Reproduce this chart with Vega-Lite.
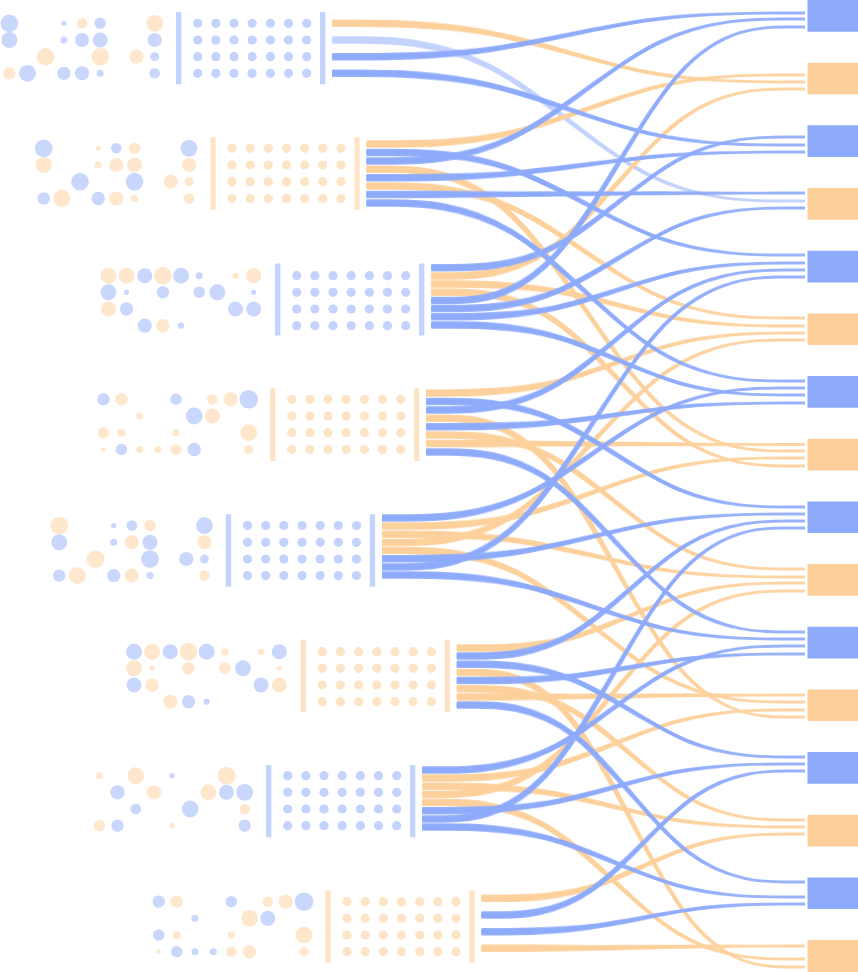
{
  "$schema": "https://vega.github.io/schema/vega-lite/v6.json",
  "width": 858,
  "height": 972,
  "padding": 0,
  "autosize": {"type": "none"},
  "background": "white",
  "config": {"view": {"stroke": null}},
  "datasets": {
    "links": [
      {"id": 1, "c": "o", "x": [332.2, 489.8, 647.4, 805], "y": [23.3, 23.3, 82, 82], "o": [0, 1, 2, 3]},
      {"id": 2, "c": "lb", "x": [332.2, 489.8, 647.4, 805], "y": [40, 40, 201, 201], "o": [0, 1, 2, 3]},
      {"id": 3, "c": "b", "x": [332.2, 489.8, 647.4, 805], "y": [56.7, 56.7, 13, 13], "o": [0, 1, 2, 3]},
      {"id": 4, "c": "b", "x": [332.2, 489.8, 647.4, 805], "y": [73.3, 73.3, 145, 145], "o": [0, 1, 2, 3]},
      {"id": 5, "c": "o", "x": [366.5, 512.7, 658.8, 805], "y": [144, 144, 75, 75], "o": [0, 1, 2, 3]},
      {"id": 6, "c": "b", "x": [366.5, 512.7, 658.8, 805], "y": [152.4, 152.4, 255, 255], "o": [0, 1, 2, 3]},
      {"id": 7, "c": "b", "x": [366.5, 512.7, 658.8, 805], "y": [160.9, 160.9, 19, 19], "o": [0, 1, 2, 3]},
      {"id": 8, "c": "o", "x": [366.5, 512.7, 658.8, 805], "y": [169.3, 169.3, 451, 451], "o": [0, 1, 2, 3]},
      {"id": 9, "c": "b", "x": [366.5, 512.7, 658.8, 805], "y": [177.7, 177.7, 152, 152], "o": [0, 1, 2, 3]},
      {"id": 10, "c": "o", "x": [366.5, 512.7, 658.8, 805], "y": [186.1, 186.1, 318, 318], "o": [0, 1, 2, 3]},
      {"id": 11, "c": "b", "x": [366.5, 512.7, 658.8, 805], "y": [194.6, 194.6, 193, 193], "o": [0, 1, 2, 3]},
      {"id": 12, "c": "b", "x": [366.5, 512.7, 658.8, 805], "y": [203, 203, 381, 381], "o": [0, 1, 2, 3]},
      {"id": 13, "c": "b", "x": [431.2, 555.8, 680.4, 805], "y": [267.7, 267.7, 137, 137], "o": [0, 1, 2, 3]},
      {"id": 14, "c": "o", "x": [431.2, 555.8, 680.4, 805], "y": [275.9, 275.9, 89, 89], "o": [0, 1, 2, 3]},
      {"id": 15, "c": "o", "x": [431.2, 555.8, 680.4, 805], "y": [284.1, 284.1, 326, 326], "o": [0, 1, 2, 3]},
      {"id": 16, "c": "o", "x": [431.2, 555.8, 680.4, 805], "y": [292.3, 292.3, 466, 466], "o": [0, 1, 2, 3]},
      {"id": 17, "c": "b", "x": [431.2, 555.8, 680.4, 805], "y": [300.4, 300.4, 27, 27], "o": [0, 1, 2, 3]},
      {"id": 18, "c": "b", "x": [431.2, 555.8, 680.4, 805], "y": [308.6, 308.6, 208, 208], "o": [0, 1, 2, 3]},
      {"id": 19, "c": "b", "x": [431.2, 555.8, 680.4, 805], "y": [316.8, 316.8, 263, 263], "o": [0, 1, 2, 3]},
      {"id": 20, "c": "b", "x": [431.2, 555.8, 680.4, 805], "y": [325, 325, 395, 395], "o": [0, 1, 2, 3]},
      {"id": 21, "c": "o", "x": [426.2, 552.5, 678.7, 805], "y": [393, 393, 333, 333], "o": [0, 1, 2, 3]},
      {"id": 22, "c": "b", "x": [426.2, 552.5, 678.7, 805], "y": [401.4, 401.4, 507, 507], "o": [0, 1, 2, 3]},
      {"id": 23, "c": "b", "x": [426.2, 552.5, 678.7, 805], "y": [409.9, 409.9, 270, 270], "o": [0, 1, 2, 3]},
      {"id": 24, "c": "o", "x": [426.2, 552.5, 678.7, 805], "y": [418.3, 418.3, 717, 717], "o": [0, 1, 2, 3]},
      {"id": 25, "c": "b", "x": [426.2, 552.5, 678.7, 805], "y": [426.7, 426.7, 403, 403], "o": [0, 1, 2, 3]},
      {"id": 26, "c": "o", "x": [426.2, 552.5, 678.7, 805], "y": [435.1, 435.1, 569, 569], "o": [0, 1, 2, 3]},
      {"id": 27, "c": "o", "x": [426.2, 552.5, 678.7, 805], "y": [443.6, 443.6, 444.5, 444.5], "o": [0, 1, 2, 3]},
      {"id": 28, "c": "b", "x": [426.2, 552.5, 678.7, 805], "y": [452, 452, 632, 632], "o": [0, 1, 2, 3]},
      {"id": 29, "c": "b", "x": [382, 523, 664, 805], "y": [518, 518, 388, 388], "o": [0, 1, 2, 3]},
      {"id": 30, "c": "o", "x": [382, 523, 664, 805], "y": [526.1, 526.1, 458, 458], "o": [0, 1, 2, 3]},
      {"id": 31, "c": "o", "x": [382, 523, 664, 805], "y": [534.3, 534.3, 577, 577], "o": [0, 1, 2, 3]},
      {"id": 32, "c": "o", "x": [382, 523, 664, 805], "y": [542.4, 542.4, 340, 340], "o": [0, 1, 2, 3]},
      {"id": 33, "c": "o", "x": [382, 523, 664, 805], "y": [550.6, 550.6, 702, 702], "o": [0, 1, 2, 3]},
      {"id": 34, "c": "b", "x": [382, 523, 664, 805], "y": [558.7, 558.7, 514, 514], "o": [0, 1, 2, 3]},
      {"id": 35, "c": "b", "x": [382, 523, 664, 805], "y": [566.9, 566.9, 277, 277], "o": [0, 1, 2, 3]},
      {"id": 36, "c": "b", "x": [382, 523, 664, 805], "y": [575, 575, 639, 639], "o": [0, 1, 2, 3]},
      {"id": 37, "c": "o", "x": [456.8, 572.9, 688.9, 805], "y": [648, 648, 583, 583], "o": [0, 1, 2, 3]},
      {"id": 38, "c": "b", "x": [456.8, 572.9, 688.9, 805], "y": [656.1, 656.1, 521, 521], "o": [0, 1, 2, 3]},
      {"id": 39, "c": "b", "x": [456.8, 572.9, 688.9, 805], "y": [664.3, 664.3, 757, 757], "o": [0, 1, 2, 3]},
      {"id": 40, "c": "o", "x": [456.8, 572.9, 688.9, 805], "y": [672.4, 672.4, 967, 967], "o": [0, 1, 2, 3]},
      {"id": 41, "c": "b", "x": [456.8, 572.9, 688.9, 805], "y": [680.6, 680.6, 654, 654], "o": [0, 1, 2, 3]},
      {"id": 42, "c": "o", "x": [456.8, 572.9, 688.9, 805], "y": [688.7, 688.7, 820, 820], "o": [0, 1, 2, 3]},
      {"id": 43, "c": "o", "x": [456.8, 572.9, 688.9, 805], "y": [696.9, 696.9, 695, 695], "o": [0, 1, 2, 3]},
      {"id": 44, "c": "b", "x": [456.8, 572.9, 688.9, 805], "y": [705, 705, 882, 882], "o": [0, 1, 2, 3]},
      {"id": 45, "c": "b", "x": [422.2, 549.8, 677.4, 805], "y": [770, 770, 646, 646], "o": [0, 1, 2, 3]},
      {"id": 46, "c": "o", "x": [422.2, 549.8, 677.4, 805], "y": [778.1, 778.1, 710, 710], "o": [0, 1, 2, 3]},
      {"id": 47, "c": "o", "x": [422.2, 549.8, 677.4, 805], "y": [786.3, 786.3, 827, 827], "o": [0, 1, 2, 3]},
      {"id": 48, "c": "o", "x": [422.2, 549.8, 677.4, 805], "y": [794.4, 794.4, 591, 591], "o": [0, 1, 2, 3]},
      {"id": 49, "c": "o", "x": [422.2, 549.8, 677.4, 805], "y": [802.6, 802.6, 959, 959], "o": [0, 1, 2, 3]},
      {"id": 50, "c": "b", "x": [422.2, 549.8, 677.4, 805], "y": [810.7, 810.7, 764, 764], "o": [0, 1, 2, 3]},
      {"id": 51, "c": "b", "x": [422.2, 549.8, 677.4, 805], "y": [818.9, 818.9, 528, 528], "o": [0, 1, 2, 3]},
      {"id": 52, "c": "b", "x": [422.2, 549.8, 677.4, 805], "y": [827, 827, 897, 897], "o": [0, 1, 2, 3]},
      {"id": 53, "c": "o", "x": [481.5, 589.3, 697.2, 805], "y": [898.3, 898.3, 834, 834], "o": [0, 1, 2, 3]},
      {"id": 54, "c": "b", "x": [481.5, 589.3, 697.2, 805], "y": [915, 915, 771, 771], "o": [0, 1, 2, 3]},
      {"id": 55, "c": "b", "x": [481.5, 589.3, 697.2, 805], "y": [931.7, 931.7, 904, 904], "o": [0, 1, 2, 3]},
      {"id": 56, "c": "o", "x": [481.5, 589.3, 697.2, 805], "y": [948.3, 948.3, 946, 946], "o": [0, 1, 2, 3]}
    ],
    "bars": [
      {"c": "lb", "x": 178.7, "y": 12, "y2": 84.3}, {"c": "lb", "x": 322.7, "y": 12, "y2": 84.3},
      {"c": "lo", "x": 213, "y": 137.3, "y2": 210}, {"c": "lo", "x": 357, "y": 137.3, "y2": 210},
      {"c": "lb", "x": 277.7, "y": 263.5, "y2": 335.5}, {"c": "lb", "x": 421.7, "y": 263.5, "y2": 335.5},
      {"c": "lo", "x": 272.7, "y": 388.3, "y2": 461}, {"c": "lo", "x": 416.7, "y": 388.3, "y2": 461},
      {"c": "lb", "x": 228.5, "y": 514.3, "y2": 586.7}, {"c": "lb", "x": 372.5, "y": 514.3, "y2": 586.7},
      {"c": "lo", "x": 303.3, "y": 639.5, "y2": 712}, {"c": "lo", "x": 447.3, "y": 639.5, "y2": 712},
      {"c": "lb", "x": 268.7, "y": 765, "y2": 837.3}, {"c": "lb", "x": 412.7, "y": 765, "y2": 837.3},
      {"c": "lo", "x": 328, "y": 890, "y2": 962.5}, {"c": "lo", "x": 472, "y": 890, "y2": 962.5}
    ],
    "grid": [
      {"c": "lb", "y": 23.3, "x": [197.7, 215.9, 234.0, 252.2, 270.4, 288.5, 306.7]},
      {"c": "lb", "y": 40, "x": [197.7, 215.9, 234.0, 252.2, 270.4, 288.5, 306.7]},
      {"c": "lb", "y": 56.7, "x": [197.7, 215.9, 234.0, 252.2, 270.4, 288.5, 306.7]},
      {"c": "lb", "y": 73.3, "x": [197.7, 215.9, 234.0, 252.2, 270.4, 288.5, 306.7]},
      {"c": "lo", "y": 148.3, "x": [232, 250.2, 268.3, 286.5, 304.7, 322.8, 341]},
      {"c": "lo", "y": 165, "x": [232, 250.2, 268.3, 286.5, 304.7, 322.8, 341]},
      {"c": "lo", "y": 181.7, "x": [232, 250.2, 268.3, 286.5, 304.7, 322.8, 341]},
      {"c": "lo", "y": 198.5, "x": [232, 250.2, 268.3, 286.5, 304.7, 322.8, 341]},
      {"c": "lb", "y": 275.7, "x": [296.7, 314.9, 333, 351.2, 369.4, 387.5, 405.7]},
      {"c": "lb", "y": 292.3, "x": [296.7, 314.9, 333, 351.2, 369.4, 387.5, 405.7]},
      {"c": "lb", "y": 309, "x": [296.7, 314.9, 333, 351.2, 369.4, 387.5, 405.7]},
      {"c": "lb", "y": 325.7, "x": [296.7, 314.9, 333, 351.2, 369.4, 387.5, 405.7]},
      {"c": "lo", "y": 399.3, "x": [291.7, 309.9, 328, 346.2, 364.4, 382.5, 400.7]},
      {"c": "lo", "y": 416, "x": [291.7, 309.9, 328, 346.2, 364.4, 382.5, 400.7]},
      {"c": "lo", "y": 432.7, "x": [291.7, 309.9, 328, 346.2, 364.4, 382.5, 400.7]},
      {"c": "lo", "y": 449.5, "x": [291.7, 309.9, 328, 346.2, 364.4, 382.5, 400.7]},
      {"c": "lb", "y": 525.6, "x": [247.5, 265.7, 283.8, 302, 320.2, 338.3, 356.5]},
      {"c": "lb", "y": 542.3, "x": [247.5, 265.7, 283.8, 302, 320.2, 338.3, 356.5]},
      {"c": "lb", "y": 559, "x": [247.5, 265.7, 283.8, 302, 320.2, 338.3, 356.5]},
      {"c": "lb", "y": 575.6, "x": [247.5, 265.7, 283.8, 302, 320.2, 338.3, 356.5]},
      {"c": "lo", "y": 651.7, "x": [322.3, 340.5, 358.6, 376.8, 395, 413.1, 431.3]},
      {"c": "lo", "y": 668.3, "x": [322.3, 340.5, 358.6, 376.8, 395, 413.1, 431.3]},
      {"c": "lo", "y": 685, "x": [322.3, 340.5, 358.6, 376.8, 395, 413.1, 431.3]},
      {"c": "lo", "y": 701.7, "x": [322.3, 340.5, 358.6, 376.8, 395, 413.1, 431.3]},
      {"c": "lb", "y": 775.7, "x": [287.7, 305.9, 324, 342.2, 360.4, 378.5, 396.7]},
      {"c": "lb", "y": 792.3, "x": [287.7, 305.9, 324, 342.2, 360.4, 378.5, 396.7]},
      {"c": "lb", "y": 809, "x": [287.7, 305.9, 324, 342.2, 360.4, 378.5, 396.7]},
      {"c": "lb", "y": 825.7, "x": [287.7, 305.9, 324, 342.2, 360.4, 378.5, 396.7]},
      {"c": "lo", "y": 901.7, "x": [347, 365.2, 383.3, 401.5, 419.7, 437.8, 456]},
      {"c": "lo", "y": 918.3, "x": [347, 365.2, 383.3, 401.5, 419.7, 437.8, 456]},
      {"c": "lo", "y": 935, "x": [347, 365.2, 383.3, 401.5, 419.7, 437.8, 456]},
      {"c": "lo", "y": 951.7, "x": [347, 365.2, 383.3, 401.5, 419.7, 437.8, 456]}
    ],
    "circles": [
      {"y": 23.3, "x": [9.4, 63.9, 82, 100.2, 154.7], "r": [10, 3, 6, 6.5, 9.5], "c": ["lb", "lb", "lo", "lb", "lo"]},
      {"y": 40, "x": [9.4, 63.9, 82, 100.2, 154.7], "r": [9, 4, 8, 8.5, 8], "c": ["lb", "lb", "lb", "lb", "lb"]},
      {"y": 56.7, "x": [45.7, 100.2, 136.5, 154.7], "r": [10, 10, 8, 5], "c": ["lo", "lo", "lo", "lb"]},
      {"y": 73.3, "x": [9.4, 27.5, 63.9, 82, 100.2, 154.7], "r": [7, 9.5, 7.5, 8, 4, 6], "c": ["lo", "lb", "lb", "lb", "lb", "lb"]},
      {"y": 148.3, "x": [43.7, 98.2, 116.3, 134.5, 189], "r": [10, 3, 6, 6.5, 9.5], "c": ["lb", "lo", "lb", "lo", "lb"]},
      {"y": 165, "x": [43.7, 98.2, 116.3, 134.5, 189], "r": [9, 4, 8, 8.5, 8], "c": ["lo", "lo", "lo", "lo", "lo"]},
      {"y": 181.7, "x": [80, 134.5, 170.8, 189], "r": [10, 10, 8, 5], "c": ["lb", "lb", "lo", "lo"]},
      {"y": 198.5, "x": [43.7, 61.8, 98.2, 116.3, 134.5, 189], "r": [7, 9.5, 7.5, 8, 4, 6], "c": ["lb", "lo", "lb", "lo", "lo", "lo"]},
      {"y": 275.7, "x": [108.4, 126.5, 144.7, 162.9, 181, 199.2, 235.5, 253.7], "r": [9, 9, 8.5, 10, 9, 4, 3.5, 8.5], "c": ["lo", "lo", "lb", "lo", "lb", "lb", "lo", "lo"]},
      {"y": 292.3, "x": [108.4, 126.5, 162.9, 199.2, 217.4, 253.7], "r": [9, 3, 7, 6.5, 9, 3], "c": ["lb", "lb", "lb", "lb", "lb", "lb"]},
      {"y": 309, "x": [108.4, 126.5, 235.5, 253.7], "r": [8.5, 7.5, 8.5, 8.5], "c": ["lo", "lb", "lb", "lb"]},
      {"y": 325.7, "x": [144.7, 162.9, 181], "r": [8, 7.5, 3.5], "c": ["lb", "lo", "lb"]},
      {"y": 399.3, "x": [103.4, 121.5, 176, 212.4, 230.5, 248.7], "r": [7, 7, 6.5, 6, 8, 10.5], "c": ["lb", "lo", "lb", "lo", "lo", "lb"]},
      {"y": 416, "x": [139.7, 194.2, 212.4], "r": [4, 9.5, 8.5], "c": ["lo", "lb", "lo"]},
      {"y": 432.7, "x": [103.4, 121.5, 176, 248.7], "r": [6.5, 4.5, 4, 9.5], "c": ["lo", "lo", "lo", "lo"]},
      {"y": 449.5, "x": [103.4, 121.5, 139.7, 157.9, 176, 194.2, 248.7], "r": [2.5, 6.5, 4, 4, 6, 7.5, 5], "c": ["lo", "lb", "lo", "lo", "lo", "lb", "lo"]},
      {"y": 525.6, "x": [59.2, 113.7, 131.8, 150, 204.5], "r": [10, 3, 6, 6.5, 9.5], "c": ["lo", "lb", "lb", "lo", "lb"]},
      {"y": 542.3, "x": [59.2, 113.7, 131.8, 150, 204.5], "r": [9, 4, 8, 8.5, 8], "c": ["lb", "lb", "lo", "lb", "lo"]},
      {"y": 559, "x": [95.5, 150, 186.3, 204.5], "r": [10, 10, 8, 5], "c": ["lo", "lb", "lb", "lb"]},
      {"y": 575.6, "x": [59.2, 77.3, 113.7, 131.8, 150, 204.5], "r": [7, 9.5, 7.5, 8, 4, 6], "c": ["lb", "lo", "lb", "lo", "lb", "lo"]},
      {"y": 651.7, "x": [134, 152.1, 170.3, 188.5, 206.6, 224.8, 261.1, 279.3], "r": [9, 9, 8.5, 10, 9, 4, 3.5, 8.5], "c": ["lb", "lo", "lb", "lo", "lb", "lo", "lo", "lb"]},
      {"y": 668.3, "x": [134, 152.1, 188.5, 224.8, 243, 279.3], "r": [9, 3, 7, 6.5, 9, 3], "c": ["lo", "lo", "lo", "lo", "lb", "lo"]},
      {"y": 685, "x": [134, 152.1, 261.1, 279.3], "r": [8.5, 7.5, 8.5, 8.5], "c": ["lb", "lo", "lb", "lo"]},
      {"y": 701.7, "x": [170.3, 188.5, 206.6], "r": [8, 7.5, 3.5], "c": ["lo", "lb", "lb"]},
      {"y": 775.7, "x": [99.4, 135.7, 172, 226.5], "r": [4, 9.5, 3, 10], "c": ["lo", "lo", "lb", "lo"]},
      {"y": 792.3, "x": [117.5, 153.9, 208.4, 226.5, 244.7], "r": [8, 8, 9, 8.5, 9.5], "c": ["lb", "lo", "lo", "lb", "lb"]},
      {"y": 809, "x": [135.7, 190.2, 244.7], "r": [6, 9.5, 6], "c": ["lb", "lb", "lo"]},
      {"y": 825.7, "x": [99.4, 117.5, 172, 244.7], "r": [6.5, 7, 3, 7], "c": ["lo", "lb", "lo", "lb"]},
      {"y": 901.7, "x": [158.7, 176.8, 231.3, 267.7, 285.8, 304], "r": [7, 7, 6.5, 6, 8, 10.5], "c": ["lb", "lo", "lb", "lo", "lo", "lb"]},
      {"y": 918.3, "x": [195, 249.5, 267.7], "r": [4, 9.5, 8.5], "c": ["lb", "lo", "lb"]},
      {"y": 935, "x": [158.7, 176.8, 231.3, 304], "r": [6.5, 4.5, 4, 9.5], "c": ["lb", "lo", "lo", "lo"]},
      {"y": 951.7, "x": [158.7, 176.8, 195, 213.2, 231.3, 249.5, 304], "r": [2.5, 6.5, 4, 4, 6, 7.5, 5], "c": ["lo", "lb", "lb", "lb", "lo", "lo", "lo"]}
    ],
    "rects": [
      {"c": "b", "y": 0, "y2": 31.7}, {"c": "o", "y": 62.7, "y2": 94.3},
      {"c": "b", "y": 125.3, "y2": 157}, {"c": "o", "y": 188, "y2": 219.7},
      {"c": "b", "y": 250.7, "y2": 282.4}, {"c": "o", "y": 313.4, "y2": 345},
      {"c": "b", "y": 376, "y2": 407.7}, {"c": "o", "y": 438.7, "y2": 470.4},
      {"c": "b", "y": 501.4, "y2": 533}, {"c": "o", "y": 564, "y2": 595.7},
      {"c": "b", "y": 626.7, "y2": 658.4}, {"c": "o", "y": 689.4, "y2": 721},
      {"c": "b", "y": 752, "y2": 783.7}, {"c": "o", "y": 814.7, "y2": 846.4},
      {"c": "b", "y": 877.4, "y2": 909}, {"c": "o", "y": 940, "y2": 972}
    ]
  },
  "layer": [
    {
      "data": {"name": "links"},
      "transform": [{"flatten": ["x", "y", "o"]}],
      "encoding": {
        "x": {"field": "x", "type": "quantitative", "scale": {"domain": [0, 858], "nice": false, "zero": false}, "axis": null},
        "y": {"field": "y", "type": "quantitative", "scale": {"domain": [0, 972], "nice": false, "zero": false, "reverse": true}, "axis": null},
        "order": {"field": "o", "type": "quantitative"},
        "detail": {"field": "id", "type": "nominal"}
      },
      "layer": [
        {"transform": [{"filter": "datum.c === 'lb'"}], "mark": {"type": "line", "interpolate": "basis", "strokeCap": "butt", "strokeWidth": 7.5, "stroke": {"gradient": "linear", "x1": 0, "y1": 0, "x2": 1, "y2": 0, "stops": [{"offset": 0, "color": "rgba(196,211,253,1)"}, {"offset": 0.15, "color": "rgba(196,211,253,1)"}, {"offset": 0.35, "color": "rgba(196,211,253,0)"}, {"offset": 1, "color": "rgba(196,211,253,0)"}]}}},
        {"transform": [{"filter": "datum.c === 'lb'"}], "mark": {"type": "line", "interpolate": "basis", "strokeCap": "butt", "strokeWidth": 5.5, "stroke": {"gradient": "linear", "x1": 0, "y1": 0, "x2": 1, "y2": 0, "stops": [{"offset": 0, "color": "rgba(196,211,253,1)"}, {"offset": 0.4, "color": "rgba(196,211,253,1)"}, {"offset": 0.6, "color": "rgba(196,211,253,0)"}, {"offset": 1, "color": "rgba(196,211,253,0)"}]}}},
        {"transform": [{"filter": "datum.c === 'lb'"}], "mark": {"type": "line", "interpolate": "basis", "strokeCap": "butt", "strokeWidth": 4, "stroke": {"gradient": "linear", "x1": 0, "y1": 0, "x2": 1, "y2": 0, "stops": [{"offset": 0, "color": "rgba(196,211,253,1)"}, {"offset": 0.65, "color": "rgba(196,211,253,1)"}, {"offset": 0.85, "color": "rgba(196,211,253,0)"}, {"offset": 1, "color": "rgba(196,211,253,0)"}]}}},
        {"transform": [{"filter": "datum.c === 'lb'"}], "mark": {"type": "line", "interpolate": "basis", "strokeCap": "butt", "strokeWidth": 2.8, "stroke": "#c4d3fd"}},
        {"transform": [{"filter": "datum.c === 'o'"}], "mark": {"type": "line", "interpolate": "basis", "strokeCap": "butt", "strokeWidth": 7.5, "opacity": 0.9, "stroke": {"gradient": "linear", "x1": 0, "y1": 0, "x2": 1, "y2": 0, "stops": [{"offset": 0, "color": "rgba(253,208,155,1)"}, {"offset": 0.15, "color": "rgba(253,208,155,1)"}, {"offset": 0.35, "color": "rgba(253,208,155,0)"}, {"offset": 1, "color": "rgba(253,208,155,0)"}]}}},
        {"transform": [{"filter": "datum.c === 'o'"}], "mark": {"type": "line", "interpolate": "basis", "strokeCap": "butt", "strokeWidth": 5.5, "opacity": 0.9, "stroke": {"gradient": "linear", "x1": 0, "y1": 0, "x2": 1, "y2": 0, "stops": [{"offset": 0, "color": "rgba(253,208,155,1)"}, {"offset": 0.4, "color": "rgba(253,208,155,1)"}, {"offset": 0.6, "color": "rgba(253,208,155,0)"}, {"offset": 1, "color": "rgba(253,208,155,0)"}]}}},
        {"transform": [{"filter": "datum.c === 'o'"}], "mark": {"type": "line", "interpolate": "basis", "strokeCap": "butt", "strokeWidth": 4, "opacity": 0.9, "stroke": {"gradient": "linear", "x1": 0, "y1": 0, "x2": 1, "y2": 0, "stops": [{"offset": 0, "color": "rgba(253,208,155,1)"}, {"offset": 0.65, "color": "rgba(253,208,155,1)"}, {"offset": 0.85, "color": "rgba(253,208,155,0)"}, {"offset": 1, "color": "rgba(253,208,155,0)"}]}}},
        {"transform": [{"filter": "datum.c === 'o'"}], "mark": {"type": "line", "interpolate": "basis", "strokeCap": "butt", "strokeWidth": 2.8, "opacity": 0.9, "stroke": "#fdd09b"}},
        {"transform": [{"filter": "datum.c === 'b'"}], "mark": {"type": "line", "interpolate": "basis", "strokeCap": "butt", "strokeWidth": 7.5, "opacity": 0.9, "stroke": {"gradient": "linear", "x1": 0, "y1": 0, "x2": 1, "y2": 0, "stops": [{"offset": 0, "color": "rgba(142,171,251,1)"}, {"offset": 0.15, "color": "rgba(142,171,251,1)"}, {"offset": 0.35, "color": "rgba(142,171,251,0)"}, {"offset": 1, "color": "rgba(142,171,251,0)"}]}}},
        {"transform": [{"filter": "datum.c === 'b'"}], "mark": {"type": "line", "interpolate": "basis", "strokeCap": "butt", "strokeWidth": 5.5, "opacity": 0.9, "stroke": {"gradient": "linear", "x1": 0, "y1": 0, "x2": 1, "y2": 0, "stops": [{"offset": 0, "color": "rgba(142,171,251,1)"}, {"offset": 0.4, "color": "rgba(142,171,251,1)"}, {"offset": 0.6, "color": "rgba(142,171,251,0)"}, {"offset": 1, "color": "rgba(142,171,251,0)"}]}}},
        {"transform": [{"filter": "datum.c === 'b'"}], "mark": {"type": "line", "interpolate": "basis", "strokeCap": "butt", "strokeWidth": 4, "opacity": 0.9, "stroke": {"gradient": "linear", "x1": 0, "y1": 0, "x2": 1, "y2": 0, "stops": [{"offset": 0, "color": "rgba(142,171,251,1)"}, {"offset": 0.65, "color": "rgba(142,171,251,1)"}, {"offset": 0.85, "color": "rgba(142,171,251,0)"}, {"offset": 1, "color": "rgba(142,171,251,0)"}]}}},
        {"transform": [{"filter": "datum.c === 'b'"}], "mark": {"type": "line", "interpolate": "basis", "strokeCap": "butt", "strokeWidth": 2.8, "opacity": 0.9, "stroke": "#8eabfb"}}
      ]
    },
    {
      "data": {"name": "bars"},
      "mark": {"type": "rule", "strokeWidth": 5.3},
      "encoding": {
        "x": {"field": "x", "type": "quantitative"},
        "y": {"field": "y", "type": "quantitative"},
        "y2": {"field": "y2"},
        "color": {"field": "c", "type": "nominal", "legend": null, "scale": {"domain": ["b", "o", "lb", "lo"], "range": ["#8eabfb", "#fdd09b", "#c4d3fd", "#fee4c6"]}}
      }
    },
    {
      "data": {"name": "grid"},
      "transform": [{"flatten": ["x"]}],
      "mark": {"type": "point", "filled": true, "shape": "circle", "size": 85, "opacity": 1, "strokeWidth": 0},
      "encoding": {
        "x": {"field": "x", "type": "quantitative"},
        "y": {"field": "y", "type": "quantitative"},
        "color": {"field": "c", "type": "nominal", "legend": null}
      }
    },
    {
      "data": {"name": "circles"},
      "transform": [{"flatten": ["x", "r", "c"]}],
      "mark": {"type": "point", "filled": true, "shape": "circle", "opacity": 0.9, "strokeWidth": 0},
      "encoding": {
        "x": {"field": "x", "type": "quantitative"},
        "y": {"field": "y", "type": "quantitative"},
        "size": {"field": "r", "type": "quantitative", "legend": null, "scale": {"type": "pow", "exponent": 2, "domain": [0, 10], "range": [0, 314.16]}},
        "color": {"field": "c", "type": "nominal", "legend": null}
      }
    },
    {
      "data": {"name": "rects"},
      "mark": {"type": "rect"},
      "encoding": {
        "x": {"datum": 807.5, "type": "quantitative"},
        "x2": {"datum": 858},
        "y": {"field": "y", "type": "quantitative"},
        "y2": {"field": "y2"},
        "color": {"field": "c", "type": "nominal", "legend": null}
      }
    }
  ]
}
